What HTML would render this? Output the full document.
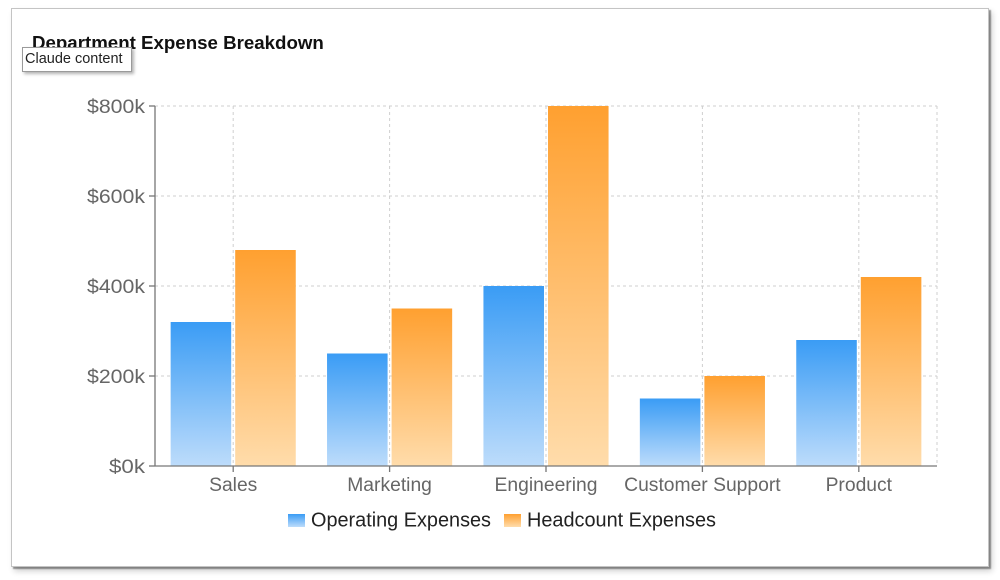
<!DOCTYPE html>
<html>
<head>
<meta charset="utf-8">
<style>
  html,body{margin:0;padding:0;background:#fff;}
  body{width:1000px;height:580px;position:relative;overflow:hidden;font-family:"Liberation Sans",Arial,sans-serif;}
  .card{position:absolute;left:11px;top:8px;width:976px;height:557px;border:1px solid #c4c4c4;background:#fff;
        box-shadow:2px 2px 1px rgba(0,0,0,0.38),3px 4px 6px rgba(0,0,0,0.2);}
  .tip{position:absolute;left:22px;top:47px;width:110px;height:25px;background:#fff;border:1px solid #9a9a9a;
       box-shadow:2px 2px 3px rgba(0,0,0,0.3);font-size:14.5px;color:#222;line-height:23px;padding-left:2px;box-sizing:border-box;}
  svg{position:absolute;left:0;top:0;}
</style>
</head>
<body>
<div class="card"></div>
<svg width="1000" height="580" viewBox="0 0 1000 580" xmlns="http://www.w3.org/2000/svg">
  <defs>
    <linearGradient id="gb" x1="0" y1="0" x2="0" y2="1">
      <stop offset="0" stop-color="#3a9cf5"/>
      <stop offset="1" stop-color="#bddcfb"/>
    </linearGradient>
    <linearGradient id="go" x1="0" y1="0" x2="0" y2="1">
      <stop offset="0" stop-color="#ffa030"/>
      <stop offset="1" stop-color="#ffdcab"/>
    </linearGradient>
  </defs>
  <text x="32" y="49" font-family="Liberation Sans, Arial, sans-serif" font-weight="bold" font-size="18.7" fill="#111">Department Expense Breakdown</text>

  <!-- grid -->
  <g stroke="#cfcfcf" stroke-width="1" stroke-dasharray="3 3" fill="none">
    <line x1="155" y1="106" x2="937" y2="106"/>
    <line x1="155" y1="196" x2="937" y2="196"/>
    <line x1="155" y1="286" x2="937" y2="286"/>
    <line x1="155" y1="376" x2="937" y2="376"/>
    <line x1="233.2" y1="106" x2="233.2" y2="466"/>
    <line x1="389.6" y1="106" x2="389.6" y2="466"/>
    <line x1="546" y1="106" x2="546" y2="466"/>
    <line x1="702.4" y1="106" x2="702.4" y2="466"/>
    <line x1="858.8" y1="106" x2="858.8" y2="466"/>
    <line x1="937" y1="106" x2="937" y2="466"/>
  </g>

  <!-- bars -->
  <rect x="170.64" y="322" width="60.56" height="144" fill="url(#gb)"/>
  <rect x="235.2" y="250" width="60.56" height="216" fill="url(#go)"/>
  <rect x="327.04" y="353.5" width="60.56" height="112.5" fill="url(#gb)"/>
  <rect x="391.6" y="308.5" width="60.56" height="157.5" fill="url(#go)"/>
  <rect x="483.44" y="286" width="60.56" height="180" fill="url(#gb)"/>
  <rect x="548" y="106" width="60.56" height="360" fill="url(#go)"/>
  <rect x="639.84" y="398.5" width="60.56" height="67.5" fill="url(#gb)"/>
  <rect x="704.4" y="376" width="60.56" height="90" fill="url(#go)"/>
  <rect x="796.24" y="340" width="60.56" height="126" fill="url(#gb)"/>
  <rect x="860.8" y="277" width="60.56" height="189" fill="url(#go)"/>

  <!-- axes -->
  <g stroke="#777" stroke-width="1.3" fill="none">
    <line x1="155" y1="106" x2="155" y2="466"/>
    <line x1="155" y1="466" x2="937" y2="466"/>
    <line x1="149" y1="106" x2="155" y2="106"/>
    <line x1="149" y1="196" x2="155" y2="196"/>
    <line x1="149" y1="286" x2="155" y2="286"/>
    <line x1="149" y1="376" x2="155" y2="376"/>
    <line x1="149" y1="466" x2="155" y2="466"/>
    <line x1="233.2" y1="466" x2="233.2" y2="472"/>
    <line x1="389.6" y1="466" x2="389.6" y2="472"/>
    <line x1="546" y1="466" x2="546" y2="472"/>
    <line x1="702.4" y1="466" x2="702.4" y2="472"/>
    <line x1="858.8" y1="466" x2="858.8" y2="472"/>
  </g>

  <g font-family="Liberation Sans, Arial, sans-serif" font-size="19.5" fill="#666" text-anchor="end">
    <text x="145" y="113" textLength="58" lengthAdjust="spacingAndGlyphs">$800k</text>
    <text x="145" y="203" textLength="58" lengthAdjust="spacingAndGlyphs">$600k</text>
    <text x="145" y="293" textLength="58" lengthAdjust="spacingAndGlyphs">$400k</text>
    <text x="145" y="383" textLength="58" lengthAdjust="spacingAndGlyphs">$200k</text>
    <text x="145" y="473" textLength="36" lengthAdjust="spacingAndGlyphs">$0k</text>
  </g>
  <g font-family="Liberation Sans, Arial, sans-serif" font-size="19.3" fill="#666" text-anchor="middle">
    <text x="233.2" y="491">Sales</text>
    <text x="389.6" y="491">Marketing</text>
    <text x="546" y="491">Engineering</text>
    <text x="702.4" y="491">Customer Support</text>
    <text x="858.8" y="491">Product</text>
  </g>

  <!-- legend -->
  <rect x="288" y="514" width="17" height="13" fill="url(#gb)"/>
  <text x="311" y="526.5" font-family="Liberation Sans, Arial, sans-serif" font-size="20" fill="#222" textLength="180" lengthAdjust="spacingAndGlyphs">Operating Expenses</text>
  <rect x="504" y="514" width="17" height="13" fill="url(#go)"/>
  <text x="527" y="526.5" font-family="Liberation Sans, Arial, sans-serif" font-size="20" fill="#222" textLength="189" lengthAdjust="spacingAndGlyphs">Headcount Expenses</text>
</svg>
<div class="tip">Claude content</div>
</body>
</html>
